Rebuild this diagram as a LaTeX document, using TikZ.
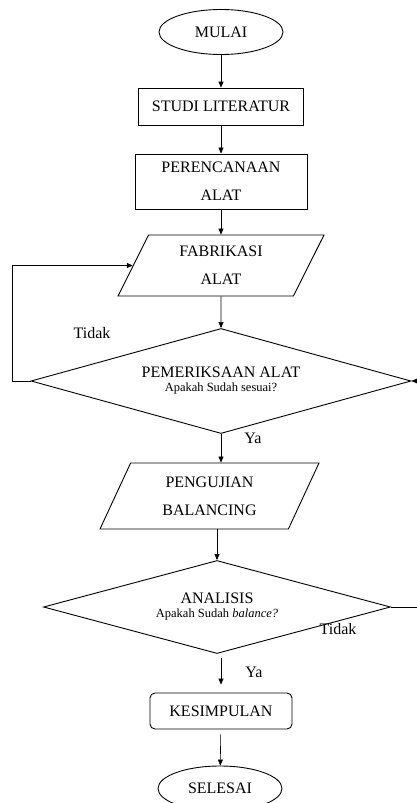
\documentclass[tikz,border=0pt]{standalone}
\usepackage{fontspec}
\setmainfont{Liberation Serif}
\usetikzlibrary{shapes.geometric,arrows.meta}
\newcommand{\kecil}{\fontsize{12.5}{14}\selectfont}

\begin{document}
\begin{tikzpicture}[x=1pt, y=-1pt,
        font=\fontsize{16}{28}\selectfont,
        terminal/.style={draw, ellipse, line width=0.9pt, minimum width=124pt, minimum height=45pt},
        proses/.style={draw, rectangle, line width=0.9pt, align=center},
        masukan/.style={draw, trapezium, trapezium left angle=56, trapezium right angle=124,
                        trapezium stretches body, line width=0.9pt, align=center},
        keputusan/.style={draw, diamond, aspect=3.6, inner sep=0pt, line width=0.9pt, align=center,
                          font=\fontsize{16}{14}\selectfont},
        panah/.style={-{Triangle[length=6pt,width=5pt]}, line width=0.6pt},
        ket/.style={font=\fontsize{16}{16}\selectfont}]
    \useasboundingbox (0,0) rectangle (417,803);
    \node[terminal]                                          (mulai)    at (221, 32.0) {MULAI};
    \node[proses, minimum width=165pt, minimum height=37pt]  (studi)    at (221,106.5) {STUDI LITERATUR};
    \node[proses, minimum width=172pt, minimum height=55pt]  (rencana)  at (221,181.5) {PERENCANAAN\\ALAT};
    \node[masukan, minimum width=206pt, minimum height=61pt] (fab)      at (221,265.5) {FABRIKASI\\ALAT};
    \node[keputusan, minimum width=380pt, minimum height=105pt] (cek)   at (221,381.0)
         {PEMERIKSAAN ALAT\\\kecil Apakah Sudah sesuai?};
    \node[masukan, minimum width=219pt, minimum height=66pt] (uji)      at (209.5,496) {PENGUJIAN\\BALANCING};
    \node[keputusan, minimum width=347pt, minimum height=93pt] (analisis) at (217,607.0)
         {ANALISIS\\\kecil Apakah Sudah \textit{balance?}};
    \node[proses, rounded corners=5pt, minimum width=142pt, minimum height=36pt] (simpul) at (221,711) {KESIMPULAN};
    \node[terminal]                                          (selesai)  at (220,788.5) {SELESAI};

    % keterangan cabang
    \node[ket] (tidak1) at ( 92,333) {Tidak};
    \node[ket] (ya1)    at (253,438) {Ya};
    \node[ket] (tidak2) at (338,629) {Tidak};
    \node[ket] (ya2)    at (254,672) {Ya};

    \draw[panah] (mulai)   -- (studi);
    \draw[panah] (studi)   -- (rencana);
    \draw[panah] (rencana) -- (fab);
    \draw[panah] (fab)     -- (cek);
    \draw[panah] (cek.south) -- (cek.south |- uji.north);
    \draw[panah] (analisis.north |- uji.south) -- (analisis.north);
    \draw[panah, shorten <=4pt, shorten >=8pt] (simpul |- analisis.south) -- (simpul.north);
    \draw[panah, shorten <=5pt] (simpul) -- (selesai);
    \draw[panah] (cek.west) -- ++(-18,0) |- (fab);
    \draw[panah] (analisis.east) -- ++(40,0) |- (cek.east);
\end{tikzpicture}
\end{document}
